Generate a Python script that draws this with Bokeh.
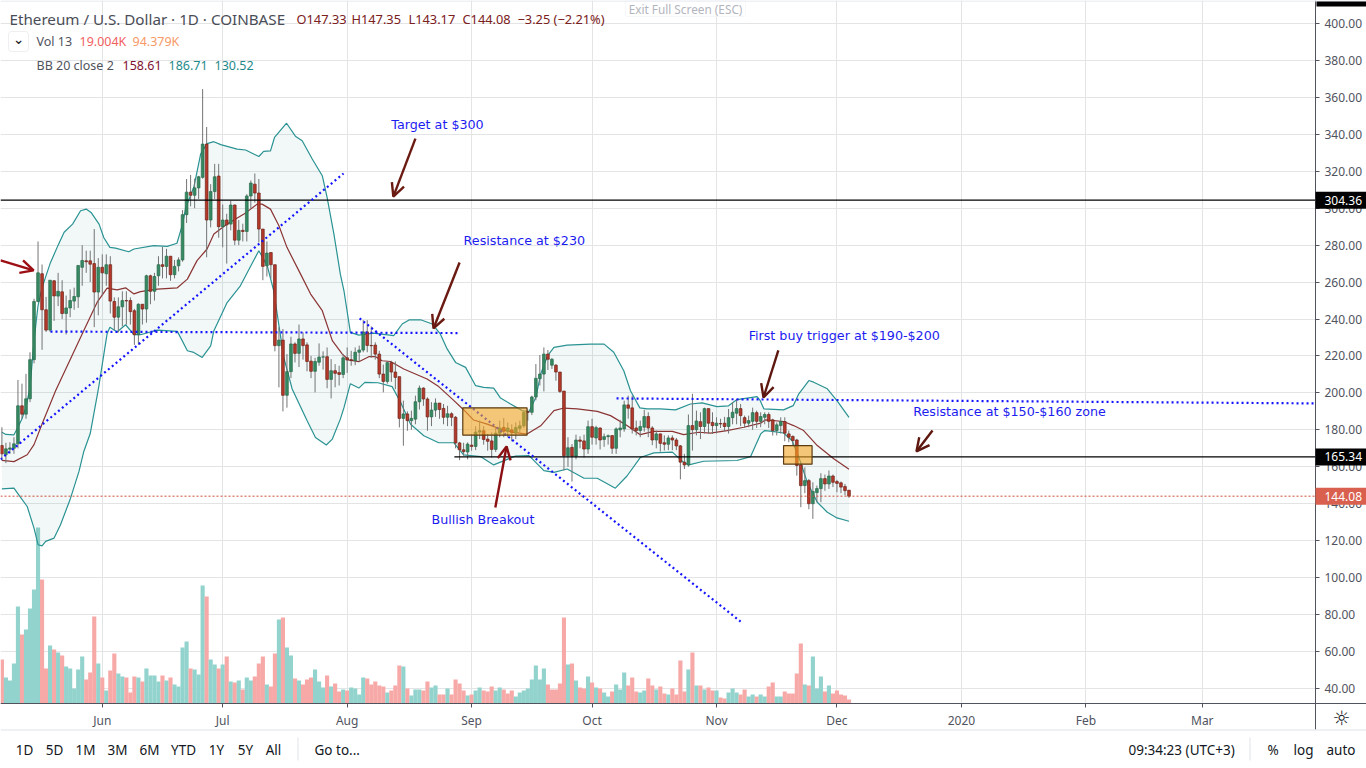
from bokeh.plotting import figure
from bokeh.embed import file_html
from bokeh.resources import INLINE
from bokeh.core.properties import value
from bokeh.models import (Range1d, FixedTicker, NumeralTickFormatter, Label, BoxAnnotation,
                          Arrow, OpenHead, ColumnDataSource)

# ---------- data: x is day number (0 = 7 May 2019) ----------
open_ = [171.5,166.6,169.5,170,172.4,193,188.5,196.8,218,249.5,264.5,245,234,260.7,252.4,254.7,243,246,249.7,252,
 268,271.5,271.5,270,254.6,268,264.5,269.4,249.5,241,246.6,250,250,244.5,231.5,248,245.4,263.4,255,263.4,
 269.4,268.5,274,264,268.8,272,296.5,308.7,307,311,316.7,334.7,293.6,309,317.4,290,293.6,291.4,301.7,282.7,
 288,287.4,306.6,313,308.2,288.7,268.8,276,269.4,225.6,228.6,198.7,211.5,226.5,221.4,229.2,226,217.2,211.7,216.6,
 219.4,219.6,207.3,212,211,210,219,218,217.4,222,223.2,233,225.7,225.9,221,210.2,206.2,216.4,211.3,208.8,
 186.2,188.6,185,185.8,195.2,202.6,196.7,187,190.7,194.5,191.6,186.8,188.7,186.8,172.9,169.2,168,171.7,171,178.8,
 179.5,175,174,169.4,178.2,181.3,179.2,180,178.2,180.8,182.2,189.8,189.5,197.8,207.7,210.2,221,215,215,211.3,
 201,166,170.5,165.8,174.5,174,169.6,181.7,175.6,181,174.8,176.3,176.9,170,180,180.5,193.5,191.9,181,179.6,
 181.4,187.2,181,174.5,177.8,173,172.2,175.6,174.5,171.3,162.5,161,182.3,180.1,184.4,181.8,191.5,184,182.3,183.4,
 183.6,181.8,186.6,189,191.5,186.6,183.6,184.6,189.3,184.6,186.8,188.3,185.4,179.6,182.3,184.5,177.8,176.4,174.5,161,
 149.8,152.5,140,146,148.2,153.6,150.7,155,152,151.3,149.3,147.33]
high = [181.4,173,173.3,176,207,205,210.3,222,251,282,269.5,252,261,261,265,261,252.7,256,257,269,
 280,277,277,288.7,273,275,275,274,251.7,251.7,255,255,251.7,245.5,248.5,248,264,264,265,274,
 279,278,274,272,273.4,299,315.8,318,316,317.5,364.5,344,313,324,324,302,297,304,302,293.6,
 291.6,307.6,315,318.8,315.8,288.7,282,276,269.4,235.5,234.6,221,230.4,227.4,237,232.8,227.4,220,219,226.8,
 222.5,224.6,218.3,215.6,214.7,221,224.6,222.8,224.6,225.6,239.4,239.4,236,227.4,222.8,215.3,217,217.4,217,208.8,
 195.8,190,190.4,198.5,204,203,197.6,195,197,194.5,194,193,189.5,187.5,173.5,173,173.2,177.7,182,185,
 182,177.7,178.6,181.3,185,186.4,184,183,184,185,190.4,191,198.5,215.6,220.5,224.6,223.2,218.9,215.6,211.3,
 201,176,172.3,177.4,176.5,177.4,185,186,182.2,181.3,178,177.5,176.9,181.3,185.4,195.8,198.5,198.5,185,185,
 190.8,189.5,182,179.6,178,177,177,177,175.6,171.8,167,188.3,199.5,190.4,189.5,192,191.5,189.5,186.8,186,
 187,191.3,195,196.7,194,187.7,187.7,192,190.4,189.5,189.5,189.5,186,184,186.8,186.8,179.6,177,175.1,161.6,
 159.7,153.4,151.6,149.8,156.5,155.8,158,155.8,152.9,152,150.7,147.35]
low = [163.4,162,167,167,170,186,186,195,216,249,223.3,233,233,239,247,240,231.6,241,245,246,
 258,265,260,235.6,242,253,258,243,234,232.7,236,237,237,226,226,237,238,248,250,258,
 262,262,260.7,262,265.8,271,292,301,300,305,316,273.4,289.6,305,284,278.8,270,288,280,280,
 282,282,300,303,281.5,261,263,262,222.5,203,190,192,208,216.5,214,218,211.7,208,200.3,214.7,
 212.6,202.5,197,203,204,208,210.8,214.7,215,217,222,222,219,218,208,200.3,205,206,202,181.3,
 171.4,179.5,180,183,191,193,179.5,182,187,186,183,182,182,170,163.6,166,164,168.7,169,175,
 172,168.7,165,168,176,176,176,173.8,175,178.6,181,185,188,196,204,200.8,212.4,213,206.6,200,
 158,160,152,164,170,165,167,172,172,169.4,170.8,172,167,167,176,179,186,178,177,176,
 179,176,171.7,170,168.2,168.8,169,169,169,153.2,158.8,160,168.8,177,175,178,178,177.8,178,181,
 179.2,178,183,183,182,181,181.4,180,181,181.4,183,181,176.9,177,178,173.8,173.3,171.5,155.2,138.1,
 145.7,137,131.8,140.8,140.8,147,148,149,146.2,145.7,144.5,143.17]
close = [167,169.7,170.2,172.4,193,188.5,196.8,218,249.5,265,245,234,261,252.5,255,243,246,250,252.2,269,
 271.7,271,269.7,254.6,268,265,269.4,249.7,241,246.6,250,249.8,244,231.5,248,245.4,263.4,255,263,269.4,
 268.5,274,264,268.5,272,296.5,308.7,307,311,317,334.7,293.6,309,317,290,293.6,291,301.7,282.7,288,
 287.4,306.6,313.6,308.2,288.7,268.5,275.7,269.4,225.6,228.6,198.7,211.5,226.5,221.4,229.2,225.6,217,211.7,217,219.4,
 219.5,207.3,212,210.6,210,219,217.8,217.5,222,223.2,233,225.7,225.5,221,210.2,206.2,216.4,211.3,208.4,186.2,
 188.6,185,186.2,195.2,202.6,196.7,187,190.7,194.5,191,186.8,188.7,186.8,172.9,169.2,168.2,172.3,171,178.8,179.5,
 174.8,173.8,169.4,178.2,181,179.2,181,178.4,181.3,182.2,189.4,189.5,197.8,207.9,210.2,221,218.2,218.2,211.3,200.8,
 166,170.3,165.8,174.5,173.8,169.6,181.7,176,181.2,174.5,176.3,176.8,170,180.5,181,193.5,191.7,180.5,179.6,181.8,
 187.2,181,174.5,177.8,172.7,172.2,175.6,174.5,171.3,162.5,161,182.3,180.1,184.8,181.8,191.5,183.6,182.3,183.6,183.2,
 181.8,186.6,189.5,191.5,187.7,183.6,185,189.3,184.6,187.2,188.3,184.6,179.6,182.7,184.5,178.2,176,174.2,160.7,149.8,
 152.5,140,146.6,148.2,153.6,150.7,155,151.6,151,149,147.1,144.08]
# volume; 13 units is the 19.004K of the last bar
volume = [133,79,70,121,292,208,223,286,343,529,373,106,175,163,154,145,112,106,46,103,
 142,73,94,262,121,79,40,100,151,91,82,79,34,82,79,67,106,85,85,67,
 85,70,79,58,52,169,187,106,103,88,355,322,133,118,106,118,142,67,64,70,
 43,79,70,82,121,142,58,52,151,253,259,169,145,76,70,58,73,79,103,67,
 49,85,52,61,37,43,40,49,46,28,79,76,58,67,55,52,34,40,55,115,
 112,46,25,43,43,40,67,49,55,28,28,46,28,73,61,40,25,28,40,49,
 40,37,52,40,49,43,31,40,22,34,40,46,73,115,73,106,58,43,43,61,
 259,118,121,70,49,46,82,64,49,46,34,22,37,58,43,94,55,79,37,34,
 40,76,55,43,52,31,28,46,28,130,37,103,154,55,55,43,49,40,40,19,
 16,34,46,34,28,43,22,28,22,28,22,52,64,22,22,37,31,31,91,181,
 58,55,142,46,82,37,55,31,40,28,25,13]
vol_side = ("rgggg" "rgggg" "rrgrg" "rgggg" "grrrg" "rgrrg" "grrrg" "rgggg" "rgrgg" "ggrgg"
            "grggr" "grgrg" "rggrr" "rgrrg" "rggrg" "rrrgg" "grgrr" "grggg" "grrrr" "rgrrr"
            "grggg" "rrggr" "rgrrr" "rgrgg" "rrrgg" "rrrgg" "ggggg" "grrrr" "rgrgr" "rgrgr"
            "ggrgg" "grrrg" "grrgr" "rgrrr" "rgrgr" "grrgr" "rgggr" "rggrg" "grrgg" "rrrrr"
            "grggg" "rgrrr" "rr")

# Bollinger bands
up_x = [0,1,3,4,5,6,7,8,9,10,12,14,15.5,17.6,19.6,21,22.2,24.2,25.4,26.9,28.3,31.6,32.9,37.8,41.2,43.6,45,45.8,47.8,49.5,
        51.1,52.8,54.5,58.6,60.7,64,65.2,66.9,67.9,70.9,73.1,74.8,77.3,79.8,81,82.7,84.3,85.2,86.8,88.9,92.6,97.6,99.7,101.4,104.3,107.2,
        109.2,110.9,113,115.5,118,120,122.5,124.2,126.7,129.6,131.3,133,134.2,135.9,137.5,140.8,146.6,150,152.4,154.9,156.6,158.9,160.7,164,
        167.8,171.5,174.4,178.1,181,183.1,188.1,188.9,189.8,194.7,197.1,198.5,201,202.2,205.6,208,211]
upper = [178.7,177.5,177.3,181.4,186,192.3,203,228.4,247.3,257,270,280,287,291.4,298.6,299.5,297.7,291.4,284,278.8,278.4,276.4,277.9,279.7,279.3,281,291.4,300.4,311.3,329.3,
         335,336,334.4,332,331.5,328,330.8,331,338.3,346,339,336.5,326.6,317.6,305.8,286,264.3,255.3,232.8,231.3,232.4,231,237.3,239.5,239.6,237.3,
         231.9,223.8,216.5,213.8,203.9,203,202.6,197.2,194,190.4,189.8,197.6,210.2,220,224.6,225.9,226.4,226.4,222,212,201,191.9,191.3,191.3,
         190.8,194,194.6,192.6,193,196.4,198,195.8,191.3,190.8,193.1,199.5,206.7,205.8,202.2,195.8,186.71]
mid_x = [0,3,6.3,8,10,13.4,16.7,20.4,23.7,26.2,28.7,30.8,32.9,34.5,38.7,43.7,46.2,48.6,51.1,52.8,56.1,60.3,63.6,64.8,66.9,69,71,74.4,76.9,79.8,
         82.3,84.8,86.4,88.9,91.4,93.1,94.7,96.8,100.1,105.9,108.8,112.6,115,117.5,120.9,124.2,127.5,130.8,134.2,137.5,140,143.3,148.3,151.6,155.7,159,162.4,167,169.8,173.6,
         176.5,180.6,184.8,189,190.2,194.7,197.2,199.7,203.1,207.2,211]
middle = [163.5,162.8,166.5,172,183.2,201.3,216.6,233.8,249,256.7,255.8,256.9,253.6,254.8,256.2,256.9,261.6,271.6,277.9,286,291.4,296.8,302.2,302.2,299.5,290.5,278.8,264.3,253.5,244.5,
          228.3,221,217.8,216.9,219.6,219.6,217.4,217,212.9,207.5,203.4,195.8,190.9,185.3,183.1,180.4,178.6,177.7,182.2,190.4,191.8,191.3,190,187.7,182.3,177.4,179.2,179.2,177.4,178.7,
          178.2,179.6,181.4,183.6,185.4,184.5,182.3,179.6,171.5,164.3,158.61]
lo_x = [0,3,4.6,6.3,8,9,10,10.9,13,14.6,17.1,19.2,20.4,22,24.1,25.4,26.2,26.9,28.7,30.8,32.9,34.5,38.7,43.7,46.2,47.8,49.9,52,52.8,56.1,
        59.4,64,66.1,67.7,70.2,72.3,76,78.1,80.8,82.3,84.3,85.2,86.8,88.9,90.4,93.7,97.2,99.3,101.8,105.1,108.8,112.6,115,119.2,122.5,125.4,127.9,131.3,135,137.5,
        140.8,145,148.3,152.8,155.7,159,162.4,167,169.7,171.1,174.8,183.1,186.5,189,190,191.9,194.7,196.8,198.5,200.6,203.1,205.6,208,211]
lower = [148,148.4,143.6,138.5,126.8,117.8,117.2,119.6,121.4,128.6,143,157.5,168.3,178,203,221,232,235.6,233,236.9,231.5,231.5,234,233.3,222.8,221.9,219.2,225.5,233.7,248.9,
         258,277,268.8,255.3,219.2,202.1,185,175.9,171.8,175,185.8,192,205,202.6,205.7,205.5,203.4,194.9,183,176.8,173,173,166.4,165.5,161,163.6,165.8,166,157.9,157,
         158.8,153.8,153.8,148.4,155,165,167.5,167.9,162.5,161,163,163.4,165.5,177.8,179.6,179.2,178.3,174.2,165.2,151.6,140.8,135.4,132.3,130.52]

# drawn-on annotations (day, price)
trend_x = [[-0.35,85.1],[12.1,114],[89.1,184],[153.1,327]]
trend_y = [[164,318.8],[233.2,232.4],[240.3,76.2],[197,194.3]]
level_x = [[-0.35,327.2],[112.7,327.2]]
level_y = [[304.36,304.36],[165.34,165.34]]
last_price = 144.08
boxes_x0 = [114.8,194.7]; boxes_x1 = [130.8,201.8]
boxes_y0 = [177.1,161.4]; boxes_y1 = [191.9,171.4]
arrow_xs = [-0.35,103,114,122.9,193.4,231.8]; arrow_ys = [271.7,337.7,270.6,138,223,179.6]
arrow_xe = [7.9,97.5,107.5,125.7,189.7,227.8]; arrow_ye = [266.3,306.3,234.9,171,197.5,168.3]
arrow_col = ["#9c0f14","#6b1a12","#6b1a12","#8a1014","#5e170f","#5e170f"]
note_x = [97,115,186,227,107]
note_y = [345.3,282.5,231,190,131.4]
notes = ["Target at $300","Resistance at $230","First buy trigger at $190-$200","Resistance at $150-$160 zone","Bullish Breakout"]
price_ticks = list(range(40,401,20))
time_ticks = [25,55,86,117,147,178,208,239,270,299]
time_labels = ["Jun","Jul","Aug","Sep","Oct","Nov","Dec","2020","Feb","Mar"]
range_btns = ["1D","5D","1M","3M","6M","YTD","1Y","5Y","All"]

UI = "Noto Sans"
GRID = "#e3e4e6"
AX = "#50535e"

p = figure(width=1366, height=768, output_backend="svg", toolbar_location=None, y_axis_location="right",
           x_range=Range1d(-0.35,339.9), y_range=Range1d(-3.36,412.45),
           min_border_left=0, min_border_top=0, min_border_right=0, min_border_bottom=0)
p.outline_line_color = None
p.extra_y_ranges = {"vol": Range1d(-194,2110)}
p.yaxis.ticker = FixedTicker(ticks=price_ticks)
p.yaxis.formatter = NumeralTickFormatter(format="0.00")
p.xaxis.ticker = FixedTicker(ticks=time_ticks)
p.xaxis.major_label_overrides = dict(zip(time_ticks,time_labels))
p.yaxis.fixed_location = 327.2
p.xaxis.fixed_location = 31.67
p.yaxis.bounds = (17.76, 412.45)
p.ygrid.ticker = FixedTicker(ticks=price_ticks)
p.xgrid.ticker = FixedTicker(ticks=time_ticks)
p.grid.grid_line_color = GRID
for ax in (p.xaxis, p.yaxis):
    ax.axis_line_color = AX
    ax.major_tick_line_color = AX
    ax.major_tick_out = 4
    ax.major_tick_in = 0
    ax.minor_tick_line_color = None
    ax.major_label_text_color = AX
    ax.major_label_text_font = UI
    ax.major_label_text_font_size = "12px"
    ax.major_label_standoff = 4
p.yaxis.major_label_standoff = 5

FH = 768
def sbox(x0,x1,y0,y1,color,**kw):
    p.add_layout(BoxAnnotation(left=x0,right=x1,top=FH-y0,bottom=FH-y1,left_units="screen",right_units="screen",
                               top_units="screen",bottom_units="screen",fill_color=color,fill_alpha=1,**kw))
# keep the grid inside the chart pane
sbox(0,1366,703,768,"#ffffff",line_color=None,level="underlay")
sbox(1316,1366,0,703,"#ffffff",line_color=None,level="underlay")

n = len(close)
days = list(range(n))
vsrc = ColumnDataSource(dict(x=days, top=volume, c=["#f7a9a8" if s=="r" else "#92d3cd" for s in vol_side]))
p.vbar(x="x", top="top", bottom=0, width=1.03, source=vsrc, fill_color="c", line_color=None, y_range_name="vol")

p.patch(up_x+lo_x[::-1], upper+lower[::-1], fill_color="#268f8f", fill_alpha=0.06, line_color=None)
p.line(up_x, upper, line_color="#2a9292", line_width=1.2)
p.line(lo_x, lower, line_color="#2a9292", line_width=1.2)
p.line(mid_x, middle, line_color="#8b3434", line_width=1.2)

up = [c>=o for o,c in zip(open_,close)]
src = ColumnDataSource(dict(x=days, o=open_, c=close, h=high, l=low,
      f=["#358a62" if u else "#b5392a" for u in up], b=["#2a6a4c" if u else "#6e241a" for u in up]))
p.segment("x","h","x","l",source=src,line_color="#747474",line_width=1)
p.vbar(x="x",top="o",bottom="c",width=0.68,source=src,fill_color="f",line_color="b",line_width=0.7)

p.multi_line(level_x, level_y, line_color="#000000", line_width=1.2)
p.line([-0.35,327.2],[last_price,last_price], line_color="#cf4a36", line_width=1, line_dash="2 2")
p.multi_line(trend_x, trend_y, line_color="#1414ff", line_width=2.2, line_dash="2 3")
p.quad(left=boxes_x0,right=boxes_x1,bottom=boxes_y0,top=boxes_y1,fill_color="#f5a623",fill_alpha=0.6,line_color="#5a3a10",line_width=1.2)
for xs,ys,xe,ye,c in zip(arrow_xs,arrow_ys,arrow_xe,arrow_ye,arrow_col):
    p.add_layout(Arrow(end=OpenHead(size=13,line_color=c,line_width=2.4),x_start=xs,y_start=ys,x_end=xe,y_end=ye,line_color=c,line_width=2.4))
p.text(note_x,note_y,text=notes,text_color="#1c1cf0",text_font=value("DejaVu Sans"),text_font_size="12.7px",text_baseline="middle",text_align="left")

def lab(x,y,t,color=AX,size=13,font=UI,align="left",**kw):
    p.add_layout(Label(x=x,y=FH-y,x_units="screen",y_units="screen",text=t,text_color=color,text_font_size=f"{size}px",
                       text_font=font,text_align=align,text_baseline="middle",**kw))

lab(9,18,"Ethereum / U.S. Dollar · 1D · COINBASE","#4a4d57",15.2)
for x,t in [(296,"O147.33"),(351,"H147.35"),(408,"L143.17"),(462,"C144.08"),(517,"−3.25 (−2.21%)")]:
    lab(x,18,t,"#7a2020",12.8)
sbox(8,28,31,51,"#ffffff",line_color="#c9cbd0",line_width=1,border_radius=3)
lab(18,38,"⌄","#222222",14,"DejaVu Sans","center")
lab(36,41,"Vol 13",AX,12.5)
lab(79,41,"19.004K","#f2615f",12.5)
lab(132,41,"94.379K","#f79a66",12.5)
lab(36,65,"BB 20 close 2",AX,12.5)
lab(122,65,"158.61","#800f2f",12.5)
lab(168,65,"186.71","#1e8a8a",12.5)
lab(214,65,"130.52","#1e8a8a",12.5)
sbox(625,745,0,16,"#ffffff",line_color="#e0e3eb",border_radius=2)
lab(685,8,"Exit Full Screen (ESC)","#b2b5be",11.8,UI,"center")

# price tags on the axis
for price,bg in [(304.36,"#000000"),(165.34,"#000000"),(last_price,"#d9604e")]:
    p.add_layout(BoxAnnotation(left=1315,right=1366,top=price+4.6,bottom=price-4.6,left_units="screen",right_units="screen",
                               fill_color=bg,fill_alpha=1,line_color=None))
    p.add_layout(Label(x=1324,y=price,x_units="screen",text=f"{price:.2f}",text_color="#ffffff",text_font=UI,text_font_size="12px",text_baseline="middle"))
# pieces of the frame
sbox(0,1366,0,1,"#e0e3eb",line_color=None)
sbox(1316,1366,1,6,"#000000",line_color=None)
lab(1341,717,"☼","#131722",20,"DejaVu Sans","center")

# bottom bar
sbox(0,1366,729,730,"#e0e3eb",line_color=None)
sbox(297,298,737,760,"#e0e3eb",line_color=None)
sbox(1249,1250,737,760,"#e0e3eb",line_color=None)
for x,t in zip([24,54,85,117,149,183,216,245,273],range_btns):
    lab(x,749,t,"#131722",13.5,UI,"center")
for x,t in [(314,"Go to..."),(1128,"09:34:23 (UTC+3)"),(1267,"%"),(1293,"log"),(1326,"auto")]:
    lab(x,749,t,"#131722",13.5)

open("out.html","w").write(file_html(p, INLINE))
